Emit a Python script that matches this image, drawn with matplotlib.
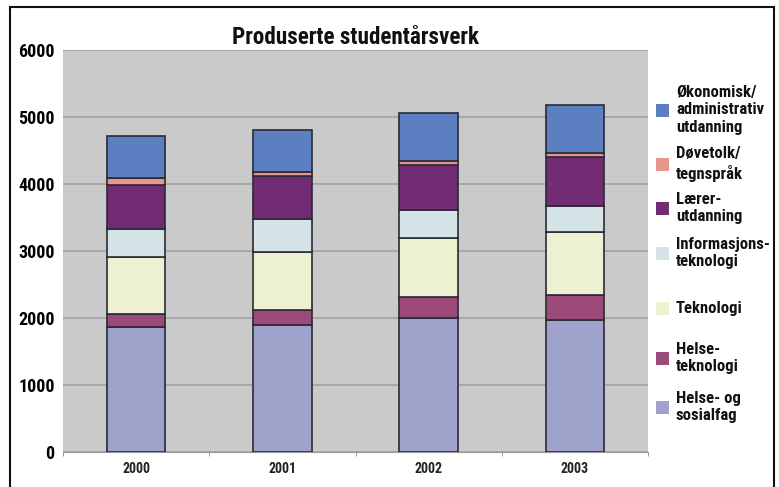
import numpy as np
import matplotlib
matplotlib.use("Agg")
import matplotlib.pyplot as plt
from matplotlib.patches import Rectangle

years = ["2000", "2001", "2002", "2003"]

# stacked from bottom to top
labels = ["Helse- og\nsosialfag", "Helse-\nteknologi", "Teknologi",
          "Informasjons-\nteknologi", "Lærer-\nutdanning", "Døvetolk/\ntegnspråk",
          "Økonomisk/\nadministrativ\nutdanning"]
helse_sosial = [1870, 1890, 2000, 1970]
helse_tek = [190, 230, 320, 380]
teknologi = [845, 860, 880, 935]
informasjon = [430, 500, 410, 390]
laerer = [650, 635, 670, 730]
dovetolk = [100, 65, 60, 60]
okonomi = [635, 630, 720, 710]
series = [helse_sosial, helse_tek, teknologi, informasjon, laerer, dovetolk, okonomi]
colors = ["#9FA3CC", "#9C4A7A", "#EEF0D2", "#D4E3E6", "#722C73", "#E8968C", "#5B7FC0"]

fam = ["Roboto Condensed", "Liberation Sans Narrow", "DejaVu Sans Condensed", "Liberation Sans"]
plt.rcParams["font.family"] = fam
plt.rcParams["font.weight"] = "bold"

fig = plt.figure(figsize=(7.79, 4.87), dpi=100)
ax = fig.add_axes([63 / 779, 35 / 487, 585 / 779, 402 / 487])
ax.set_facecolor("#CBCACA")

x = np.arange(len(years))
bottom = np.zeros(len(years))
for vals, col in zip(series, colors):
    ax.bar(x, vals, 0.4, bottom=bottom, color=col, edgecolor="#2A2A36", linewidth=1.2, zorder=3)
    bottom += np.array(vals)

ax.set_xlim(-0.5, len(years) - 0.5)
ax.set_ylim(0, 6000)
ax.set_yticks(np.arange(0, 6001, 1000))
ax.yaxis.grid(True, color="#A2A2A2", linewidth=1.2, zorder=0)
ax.set_xticks(x)
ax.set_xticklabels(years, fontsize=10, fontweight="bold", color="#222222")
ax.set_xticks(np.arange(-0.5, len(years), 1), minor=True)
ax.tick_params(axis="x", which="major", length=0, pad=7)
ax.tick_params(axis="x", which="minor", length=3, color="#888888")
ax.tick_params(axis="y", length=0, labelsize=13, pad=6)
for t in ax.get_yticklabels():
    t.set_fontweight("bold")
for s in ["left", "top", "right"]:
    ax.spines[s].set_visible(False)
ax.spines["bottom"].set_color("#999999")

fig.text(355 / 779, 1 - 37 / 487, "Produserte studentårsverk", ha="center", va="center",
         fontsize=16.7, fontweight="bold", color="#111111")

# legend, top entry first
leg_y = [110, 164, 208, 253, 308, 358, 407]
for lab, col, yy in zip(labels[::-1], colors[::-1], leg_y):
    fig.patches.append(Rectangle((656 / 779, 1 - (yy + 6.5) / 487), 13 / 779, 13 / 487,
                                 facecolor=col, edgecolor="none", transform=fig.transFigure))
    fig.text(676 / 779, 1 - yy / 487, lab, ha="left", va="center", fontsize=12,
             fontweight="bold", color="#111111", linespacing=1.22)

# frame around the chart
fig.patches.append(Rectangle((10 / 779, -0.05), 764 / 779, 1.05 - 7 / 487, fill=False,
                             edgecolor="#111111", linewidth=1.5, transform=fig.transFigure))

fig.savefig("out.png", dpi=100)
